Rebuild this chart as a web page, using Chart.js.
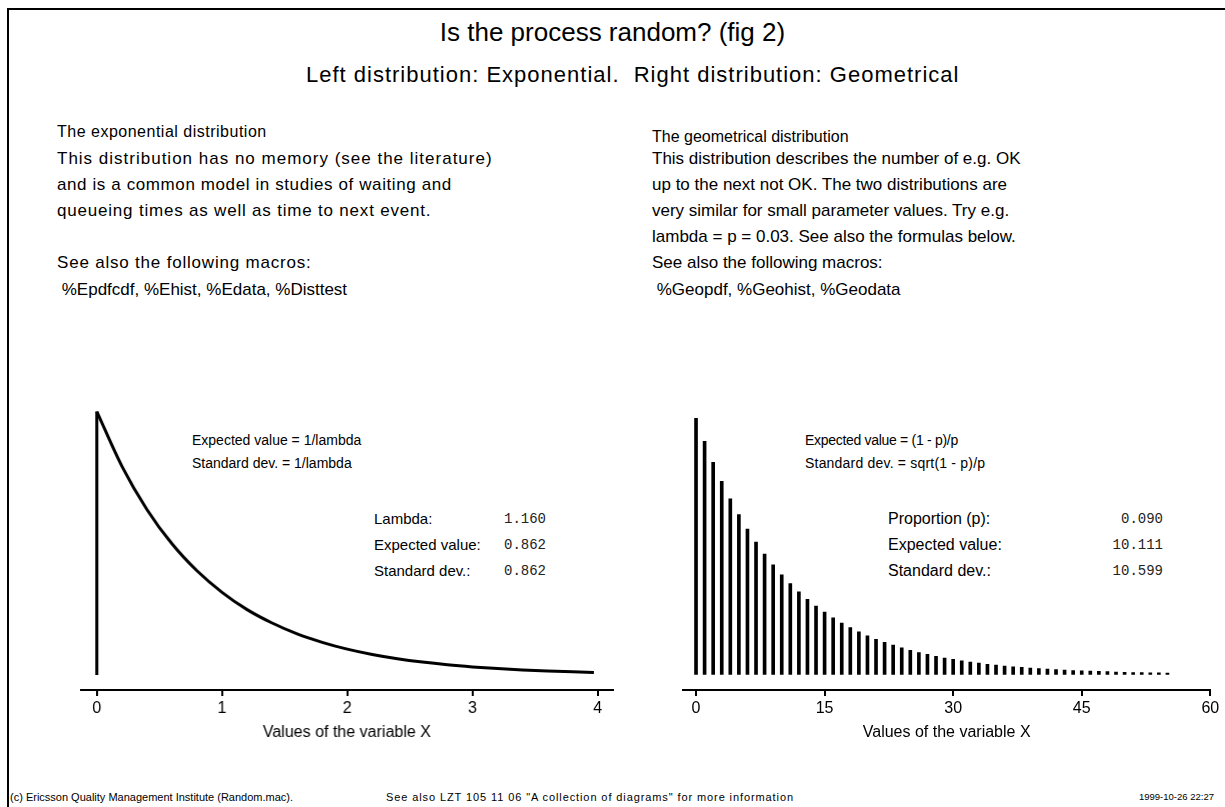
<!DOCTYPE html>
<html>
<head>
<meta charset="utf-8">
<title>Is the process random? (fig 2)</title>
<script src="https://cdn.jsdelivr.net/npm/chart.js@4.4.0/dist/chart.umd.min.js"></script>
<style>
  body { margin:0; background:#fff; width:1225px; height:807px; overflow:hidden; position:relative;
         font-family:"Liberation Sans", Arial, sans-serif; color:#000; }
  .frame { position:absolute; left:7px; top:8px; width:1300px; height:900px;
           border-left:2px solid #000; border-top:2px solid #000; }
  .t { position:absolute; white-space:pre; }
  .h1 { font-size:26px; line-height:30px; }
  .h2 { font-size:22px; line-height:26px; letter-spacing:1px; }
  .sm { font-size:16px; line-height:18px; }
  .bd { font-size:17px; line-height:20px; }
  .ls { letter-spacing:0.8px; }
  .pl { font-size:15px; line-height:18px; }
  .pm { font-size:14px; line-height:18px; }
  .pr { font-size:16px; line-height:18px; }
  .mono { font-family:"Liberation Mono", "DejaVu Sans Mono", monospace; font-size:14px; line-height:18px; text-align:right; color:#222; }
  .ft { font-family:"Liberation Sans Narrow", "Liberation Sans", Arial, sans-serif; font-size:11px; line-height:12px; }
  canvas { position:absolute; }
</style>
</head>
<body>
<div class="frame"></div>

<div class="t h1" style="left:0;width:1225px;text-align:center;top:17px">Is the process random? (fig 2)</div>
<div class="t h2" style="left:306px;top:62px">Left distribution: Exponential.  Right distribution: Geometrical</div>

<div class="t sm" style="left:57px;top:123px;letter-spacing:0.5px">The exponential distribution</div>
<div class="t bd" style="left:57px;top:149px;letter-spacing:1px">This distribution has no memory (see the literature)</div>
<div class="t bd" style="left:57px;top:175px;letter-spacing:0.6px">and is a common model in studies of waiting and</div>
<div class="t bd ls" style="left:57px;top:201px">queueing times as well as time to next event.</div>
<div class="t bd ls" style="left:57px;top:253px">See also the following macros:</div>
<div class="t bd" style="left:57px;top:280px"> %Epdfcdf, %Ehist, %Edata, %Disttest</div>

<div class="t sm" style="left:652px;top:128px">The geometrical distribution</div>
<div class="t bd" style="left:652px;top:149px">This distribution describes the number of e.g. OK</div>
<div class="t bd" style="left:652px;top:175px">up to the next not OK. The two distributions are</div>
<div class="t bd" style="left:652px;top:201px">very similar for small parameter values. Try e.g.</div>
<div class="t bd" style="left:652px;top:227px">lambda = p = 0.03. See also the formulas below.</div>
<div class="t bd" style="left:652px;top:253px">See also the following macros:</div>
<div class="t bd" style="left:652px;top:280px"> %Geopdf, %Geohist, %Geodata</div>

<div class="t pm" style="left:192px;top:431px">Expected value = 1/lambda</div>
<div class="t pm" style="left:192px;top:454px">Standard dev. = 1/lambda</div>
<div class="t pl" style="left:374px;top:510px">Lambda:</div>
<div class="t pl" style="left:374px;top:536px">Expected value:</div>
<div class="t pl" style="left:374px;top:562px">Standard dev.:</div>
<div class="t mono" style="left:446px;width:100px;top:510px">1.160</div>
<div class="t mono" style="left:446px;width:100px;top:536px">0.862</div>
<div class="t mono" style="left:446px;width:100px;top:562px">0.862</div>

<div class="t pm" style="left:805px;top:431px;letter-spacing:-0.3px">Expected value = (1 - p)/p</div>
<div class="t pm" style="left:805px;top:454px;letter-spacing:0.2px">Standard dev. = sqrt(1 - p)/p</div>
<div class="t pr" style="left:888px;top:510px">Proportion (p):</div>
<div class="t pr" style="left:888px;top:536px">Expected value:</div>
<div class="t pr" style="left:888px;top:562px">Standard dev.:</div>
<div class="t mono" style="left:1063px;width:100px;top:510px">0.090</div>
<div class="t mono" style="left:1063px;width:100px;top:536px">10.111</div>
<div class="t mono" style="left:1063px;width:100px;top:562px">10.599</div>

<div class="t ft" style="left:10px;top:791px">(c) Ericsson Quality Management Institute (Random.mac).</div>
<div class="t ft" style="left:386px;top:791px;letter-spacing:0.9px">See also LZT 105 11 06 "A collection of diagrams" for more information</div>
<div class="t ft" style="left:1014px;width:200px;text-align:right;top:791px;font-size:9.5px">1999-10-26 22:27</div>

<canvas id="chartExp" width="600" height="360"></canvas>
<canvas id="chartGeo" width="600" height="360"></canvas>

<script>
// left: exponential density, lambda = 1.16
const expX = [0, 0.2, 0.4, 0.6, 0.8, 1.0, 1.2, 1.4, 1.6, 1.8, 2.0, 2.2, 2.4, 2.6, 2.8, 3.0, 3.2, 3.4, 3.6, 3.8, 3.97];
const expY = [1.160, 0.920, 0.729, 0.578, 0.459, 0.364, 0.288, 0.229, 0.181, 0.144, 0.114, 0.0904, 0.0717, 0.0569, 0.0451, 0.0358, 0.0283, 0.0225, 0.0178, 0.0141, 0.0116];
const xTicksLeft = [0, 1, 2, 3, 4];

// right: geometric probabilities, p = 0.09
const geoX = [0, 1, 2, 3, 4, 5, 6, 7, 8, 9, 10, 11, 12, 13, 14, 15, 16, 17, 18, 19,
  20, 21, 22, 23, 24, 25, 26, 27, 28, 29, 30, 31, 32, 33, 34, 35, 36, 37, 38, 39,
  40, 41, 42, 43, 44, 45, 46, 47, 48, 49, 50, 51, 52, 53, 54, 55];
const geoY = [0.0900, 0.0819, 0.0745, 0.0678, 0.0617, 0.0562, 0.0511, 0.0465, 0.0423, 0.0385,
  0.0350, 0.0319, 0.0290, 0.0264, 0.0240, 0.0219, 0.0199, 0.0181, 0.0165, 0.0150,
  0.0136, 0.0124, 0.0113, 0.0103, 0.0094, 0.0085, 0.0077, 0.0071, 0.0064, 0.0058,
  0.0053, 0.0048, 0.0044, 0.0040, 0.0036, 0.0033, 0.0030, 0.0027, 0.0025, 0.0023,
  0.0021, 0.0019, 0.0017, 0.0016, 0.0014, 0.0013, 0.0012, 0.0011, 0.0010, 0.0009,
  0.0008, 0.0007, 0.0007, 0.0006, 0.0006, 0.0005];
const xTicksRight = [0, 15, 30, 45, 60];

const axisFont = { family: 'Liberation Sans', size: 16 };

function xAxis(min, max, ticks) {
  return {
    type: 'linear', min: min, max: max, offset: false,
    afterBuildTicks: s => { s.ticks = ticks.map(v => ({ value: v })); },
    grid: { offset: false, drawOnChartArea: false, drawTicks: true, tickLength: 6, lineWidth: 2, color: '#000' },
    border: { display: true, color: '#000', width: 2 },
    ticks: { color: '#000', font: axisFont, padding: 3, maxRotation: 0, autoSkip: false },
    title: { display: true, text: 'Values of the variable X', color: '#000', font: axisFont, padding: { top: 2, bottom: 0 } }
  };
}

// put the plot area exactly where it sits in the picture
function place(chart, canvas, area) {
  let ca = chart.chartArea;
  const w = chart.width + (area.right - area.left) - (ca.right - ca.left);
  const h = chart.height + (area.bottom - area.top) - (ca.bottom - ca.top);
  chart.resize(w, h);
  ca = chart.chartArea;
  canvas.style.left = (area.left - ca.left) + 'px';
  canvas.style.top = (area.top - ca.top) + 'px';
}

const base = {
  responsive: false,
  maintainAspectRatio: false,
  animation: false,
  events: [],
  layout: { padding: { left: 20, right: 20, top: 10, bottom: 4 } },
  plugins: { legend: { display: false }, tooltip: { enabled: false } }
};

const cExp = document.getElementById('chartExp');
const chartExp = new Chart(cExp, {
  type: 'line',
  data: {
    datasets: [
      {
        data: expX.map((x, i) => ({ x: x, y: expY[i] })),
        borderColor: '#000', borderWidth: 3, pointRadius: 0,
        cubicInterpolationMode: 'monotone', fill: false
      },
      {
        data: [{ x: 0, y: 0 }, { x: 0, y: expY[0] }],
        borderColor: '#000', borderWidth: 3, pointRadius: 0, fill: false
      }
    ]
  },
  options: Object.assign({}, base, {
    scales: {
      x: xAxis(-0.126, 4.12, xTicksLeft),
      y: { display: false, min: -0.066, max: 1.211 }
    }
  })
});
place(chartExp, cExp, { left: 81, right: 611.7, top: 400, bottom: 690 });

const cGeo = document.getElementById('chartGeo');
const chartGeo = new Chart(cGeo, {
  type: 'bar',
  data: {
    datasets: [{
      data: geoX.map((x, i) => ({ x: x, y: geoY[i] })),
      backgroundColor: '#000', borderWidth: 0, barThickness: 3
    }]
  },
  options: Object.assign({}, base, {
    scales: {
      x: xAxis(-1.52, 60, xTicksRight),
      y: { display: false, min: -0.00543, max: 0.0964 }
    }
  })
});
place(chartGeo, cGeo, { left: 682.7, right: 1210, top: 400, bottom: 690 });
</script>
</body>
</html>
